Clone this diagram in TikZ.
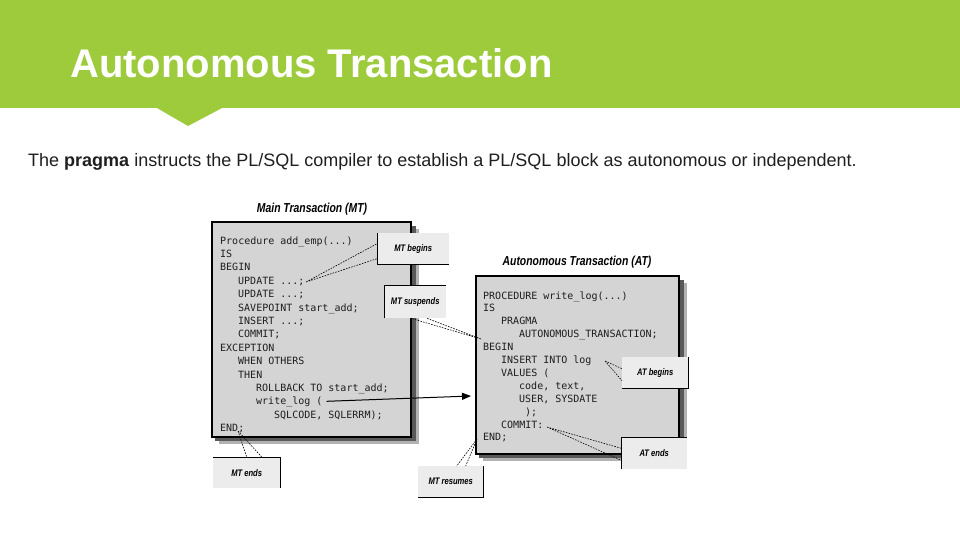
\documentclass[tikz,border=0pt]{standalone}
\usepackage{fontspec}
\setmainfont{Liberation Sans}
\setmonofont{DejaVu Sans Mono}
\newfontfamily\condfont[FakeStretch=0.8]{Liberation Sans}
\usetikzlibrary{arrows.meta}
\definecolor{band}{RGB}{157,203,59}
\definecolor{boxgray}{RGB}{212,212,212}
\definecolor{callgray}{RGB}{236,236,236}
\definecolor{codeink}{RGB}{30,30,30}
\begin{document}
\begin{tikzpicture}[x=1pt,y=-1pt,
  code/.style={anchor=base west,inner sep=0pt,font=\ttfamily\fontsize{10}{10}\selectfont,text=codeink},
  capt/.style={inner sep=0pt,font=\condfont\bfseries\itshape\fontsize{13}{13}\selectfont},
  callbox/.style={fill=callgray,draw=none,inner sep=0pt},
  calltxt/.style={inner sep=0pt,font=\condfont\bfseries\itshape\fontsize{9.5}{9.5}\selectfont},
  lead/.style={draw=black,line width=0.6pt,dash pattern=on 1.6pt off 1.2pt},
  mainbox/.style={fill=boxgray,draw=black,line width=1.4pt},
  edge/.style={draw=black,line width=0.9pt}
]
\useasboundingbox (0,0) rectangle (960,540);
\fill[white] (0,0) rectangle (960,540);
% header band
\fill[band] (0,0) rectangle (960,108);
\fill[band] (157,108) -- (222,108) -- (188,126) -- cycle;
\node[anchor=base west,inner sep=0pt,text=white,font=\bfseries\fontsize{40}{40}\selectfont] (title) at (70,78) {Autonomous Transaction};
\node[anchor=base west,inner sep=0pt,text=black!88,font=\fontsize{18}{18}\selectfont] (sub) at (28,167) {The \textbf{pragma} instructs the PL/SQL compiler to establish a PL/SQL block as autonomous or independent.};

% captions
\node[capt] (mtcap) at (312,209) {Main Transaction (MT)};
\node[capt] (atcap) at (577,262) {Autonomous Transaction (AT)};

% shadows
\fill[black!30] (219,229) rectangle (419,444);
\fill[black!65] (215,226) rectangle (416,441);
\fill[black!30] (483,283) rectangle (687,461);
\fill[black!65] (479,280) rectangle (684,458);
% main boxes
\path[mainbox] (212,222) rectangle (411,437);
\path[mainbox] (476,276) rectangle (679,454);

% MT code
\node[code] (m0) at (220,244) {Procedure add\_emp(...)};
\node[code] (m1) at (220,257.4) {IS};
\node[code] (m2) at (220,270.8) {BEGIN};
\node[code] (m3) at (238,284.2) {UPDATE ...;};
\node[code] (m4) at (238,297.6) {UPDATE ...;};
\node[code] (m5) at (238,311) {SAVEPOINT start\_add;};
\node[code] (m6) at (238,324.4) {INSERT ...;};
\node[code] (m7) at (238,337.8) {COMMIT;};
\node[code] (m8) at (220,351.2) {EXCEPTION};
\node[code] (m9) at (238,364.6) {WHEN OTHERS};
\node[code] (m10) at (238,378) {THEN};
\node[code] (m11) at (256,391.4) {ROLLBACK TO start\_add;};
\node[code] (m12) at (256,404.8) {write\_log (};
\node[code] (m13) at (274,418.2) {SQLCODE, SQLERRM);};
\node[code] (m14) at (220,431.6) {END;};

% AT code
\node[code] (a0) at (483,299) {PROCEDURE write\_log(...)};
\node[code] (a1) at (483,311.9) {IS};
\node[code] (a2) at (501,324.8) {PRAGMA};
\node[code] (a3) at (519,337.7) {AUTONOMOUS\_TRANSACTION;};
\node[code] (a4) at (483,350.6) {BEGIN};
\node[code] (a5) at (501,363.5) {INSERT INTO log};
\node[code] (a6) at (501,376.4) {VALUES (};
\node[code] (a7) at (519,389.3) {code, text,};
\node[code] (a8) at (519,402.2) {USER, SYSDATE};
\node[code] (a9) at (525,415.1) {);};
\node[code] (a10) at (501,428) {COMMIT:};
\node[code] (a11) at (483,440.9) {END;};

% callout boxes
\node[callbox,minimum width=72pt,minimum height=31pt,anchor=north west] (cb1) at (377,233) {};
\draw[edge] (cb1.north west) -- (cb1.south west) -- (cb1.south east);
\node[calltxt] at (cb1.center) {MT begins};

\node[callbox,minimum width=62pt,minimum height=33pt,anchor=north west] (cb2) at (384,285) {};
\draw[edge] (cb2.south west) -- (cb2.north west) -- (cb2.north east);
\node[calltxt] at (cb2.center) {MT suspends};

\node[callbox,minimum width=67pt,minimum height=31pt,anchor=north west] (cb3) at (213,457) {};
\draw[edge] (cb3.north west) -- (cb3.north east) -- (cb3.south east);
\node[calltxt] at (cb3.center) {MT ends};

\node[callbox,minimum width=65pt,minimum height=31pt,anchor=north west] (cb4) at (418,466) {};
\draw[edge] (cb4.north east) -- (cb4.south east) -- (cb4.south west);
\node[calltxt] at (cb4.center) {MT resumes};

\node[callbox,minimum width=66pt,minimum height=31pt,anchor=north west] (cb5) at (622,357) {};
\draw[edge] (cb5.north east) -- (cb5.south east) -- (cb5.south west);
\node[calltxt] at (cb5.center) {AT begins};

\node[callbox,minimum width=66pt,minimum height=32pt,anchor=north west] (cb6) at (621,437) {};
\draw[edge] (cb6.south west) -- (cb6.north west) -- (cb6.north east);
\node[calltxt] at (cb6.center) {AT ends};

% apex coordinates
\coordinate (p1) at (306,282);
\coordinate (p2) at (481,339);
\coordinate (p3) at (238,431);
\coordinate (p4) at (477,439);
\coordinate (p5) at (605,361);
\coordinate (p6) at (547,427);

% leader lines
\draw[lead] (p1) -- ([yshift=-10pt]cb1.west) (p1) -- ([yshift=5pt]cb1.west);
\draw[lead] (p2) -- ([xshift=12pt]cb2.south) (p2) -- ([xshift=-4pt]cb2.south);
\draw[lead] (p3) -- ([xshift=0pt]cb3.north) (p3) -- ([xshift=15pt]cb3.north);
\draw[lead] (p4) -- ([xshift=6pt]cb4.north) (p4) -- ([xshift=15pt]cb4.north);
\draw[lead] (p5) -- ([yshift=-8pt]cb5.west) (p5) -- ([yshift=4pt]cb5.west);
\draw[lead] (p6) -- ([yshift=-7pt]cb6.west) (p6) -- ([yshift=5pt]cb6.west);

% call arrow
\coordinate (arrTo) at (471,396);
\draw[line width=1pt,-{Triangle[length=9pt,width=7pt]}] ([xshift=4pt,yshift=3.5pt]m12.base east) -- (arrTo);
\end{tikzpicture}
\end{document}
